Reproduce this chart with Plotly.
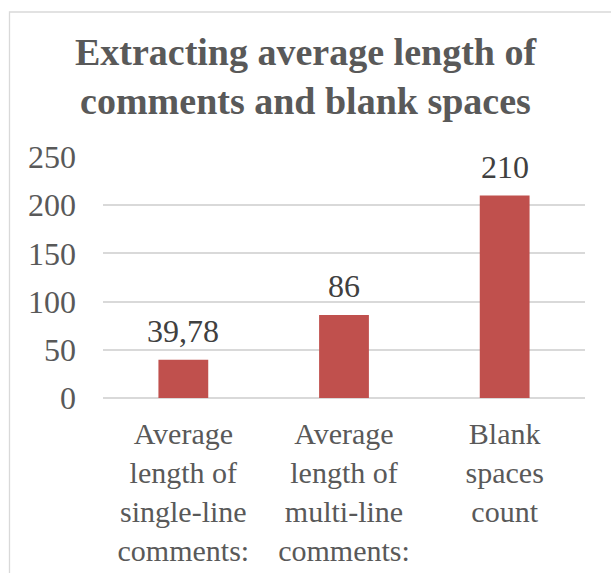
import plotly.graph_objects as go

categories = ["Average<br>length of<br>single-line<br>comments:",
              "Average<br>length of<br>multi-line<br>comments:",
              "Blank<br>spaces<br>count"]
values = [39.78, 86, 210]
y_ticks = [0, 50, 100, 150, 200, 250]
title_text = "Extracting average length of<br>comments and blank spaces"

labels = [("%g" % v).replace(".", ",") for v in values]

W, H = 611, 573
ml, mr, mt, mb = 103, 26, 157, 175
pw, ph = W - ml - mr, H - mt - mb

fig = go.Figure(go.Bar(
    x=categories, y=values, width=0.31,
    marker=dict(color="#C0504D", line=dict(width=0)),
    cliponaxis=False,
))

# data labels above bars
for c, v, t in zip(categories, values, labels):
    fig.add_annotation(x=c, y=v, xref="x", yref="y", text=t, showarrow=False,
                       yanchor="middle", yshift=29,
                       font=dict(family="Liberation Serif", size=32, color="#404040"))

# chart border (outer frame), in paper coordinates
bx0 = (9.5 - ml) / pw
by1 = (H - mb - 12) / ph
fig.add_shape(type="rect", xref="paper", yref="paper",
              x0=bx0, x1=(W + 20 - ml) / pw, y0=-(mb + 20) / ph, y1=by1,
              line=dict(color="#D9D9D9", width=1.3), fillcolor="rgba(0,0,0,0)", layer="below")

fig.update_layout(
    width=W, height=H,
    margin=dict(l=ml, r=mr, t=mt, b=mb, pad=0, autoexpand=False),
    paper_bgcolor="white", plot_bgcolor="white",
    showlegend=False,
    font=dict(family="Liberation Serif", color="#595959"),
    title=dict(text=title_text, x=0.5, xanchor="center",
               y=1 - 65 / H, yanchor="middle",
               font=dict(family="Liberation Serif", size=38, color="#595959", weight="bold")),
    xaxis=dict(type="category", showgrid=False, showline=False, ticks="", automargin=False,
               tickfont=dict(size=30, color="#595959"), ticklabelstandoff=15),
    yaxis=dict(range=[0, 250], tickvals=y_ticks, showgrid=True, gridcolor="#D9D9D9",
               gridwidth=1.5, zeroline=True, zerolinecolor="#D9D9D9", zerolinewidth=1.5,
               showline=False, ticks="", automargin=False,
               tickfont=dict(size=32, color="#595959"), ticklabelstandoff=26),
)

fig.write_html("out.html")
